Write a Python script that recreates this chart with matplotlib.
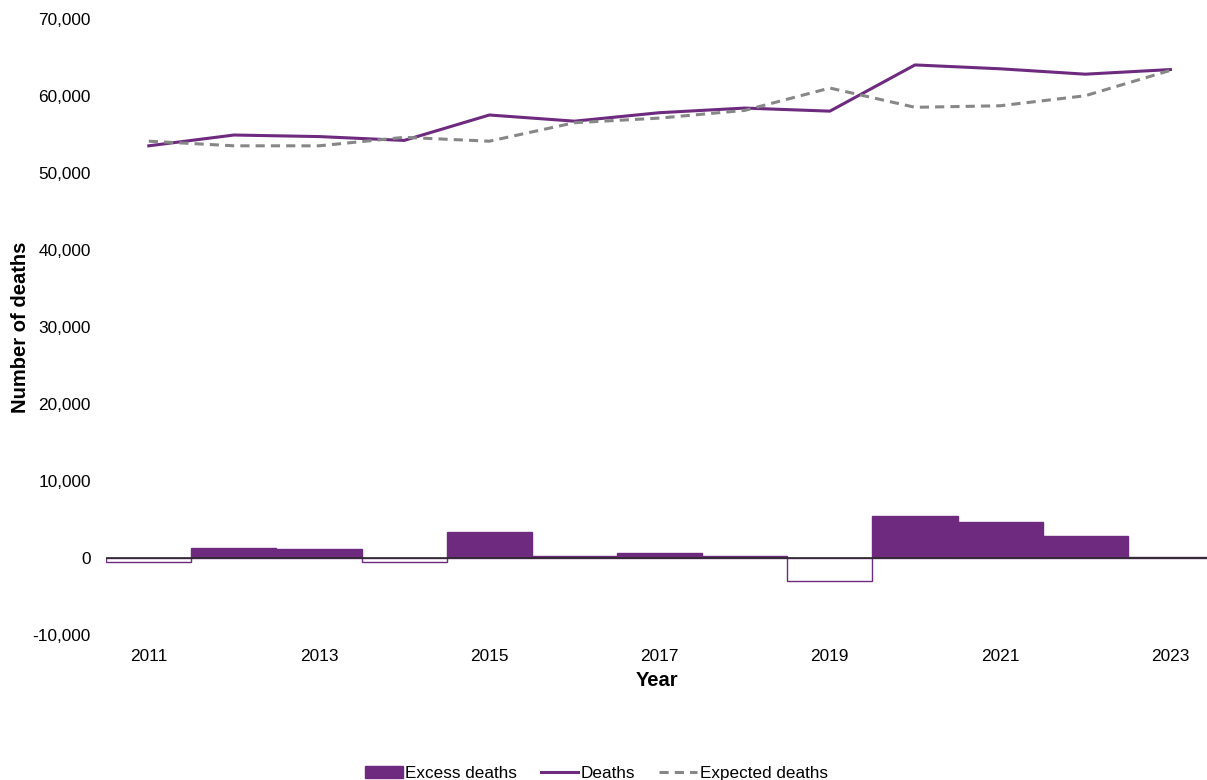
import matplotlib.pyplot as plt
from matplotlib.patches import Patch
from matplotlib.lines import Line2D
from matplotlib.ticker import FuncFormatter

plt.rcParams["font.family"] = ["Liberation Sans", "DejaVu Sans"]

years = list(range(2011, 2024))
deaths = [53500, 54900, 54700, 54200, 57500, 56700, 57800, 58400, 58000, 64000, 63500, 62800, 63400]
expected = [54100, 53500, 53500, 54600, 54100, 56500, 57100, 58100, 61000, 58500, 58700, 60000, 63300]
excess = [-500, 1300, 1100, -500, 3400, 200, 700, 300, -3000, 5500, 4700, 2900, 100]

purple = "#6d2a7f"
grey = "#878787"

fig = plt.figure(figsize=(12.07, 7.8), dpi=100)
ax = fig.add_axes([0.088, 0.186, 0.912, 0.79])

# excess bars: filled when positive, outlined when negative
fills = [purple if v >= 0 else "white" for v in excess]
ax.bar(years, excess, width=1.0, color=fills, edgecolor=purple, linewidth=1.0, zorder=2)
ax.axhline(0, color="#2b2b2b", linewidth=1.2, zorder=3)

ax.plot(years, deaths, color=purple, linewidth=2.2, zorder=4)
ax.plot(years, expected, color=grey, linewidth=2.2, linestyle=(0, (3, 2)), zorder=4)

ax.set_xlim(2010.5, 2023.43)
ax.set_ylim(-10000, 70000)
ax.set_yticks(range(-10000, 70001, 10000))
ax.yaxis.set_major_formatter(FuncFormatter(lambda v, p: f"{int(v):,}"))
ax.set_xticks(years[::2])
ax.tick_params(length=0, labelsize=12.4)
ax.tick_params(axis="x", pad=10)
ax.tick_params(axis="y", pad=11)
for s in ax.spines.values():
    s.set_visible(False)

ax.set_xlabel("Year", fontsize=14.5, fontweight="bold", labelpad=5)
ax.set_ylabel("Number of deaths", fontsize=14.5, fontweight="bold", labelpad=2)

handles = [
    Patch(facecolor=purple, edgecolor=purple),
    Line2D([], [], color=purple, linewidth=2.2),
    Line2D([], [], color=grey, linewidth=2.2, linestyle=(0, (3, 2))),
]
fig.legend(handles, ["Excess deaths", "Deaths", "Expected deaths"], loc="center",
           bbox_to_anchor=(0.494, 0.008), ncol=3, frameon=False, fontsize=12.3,
           handlelength=2.2, handletextpad=0.15, columnspacing=1.4)

plt.savefig("out.png", dpi=100)
